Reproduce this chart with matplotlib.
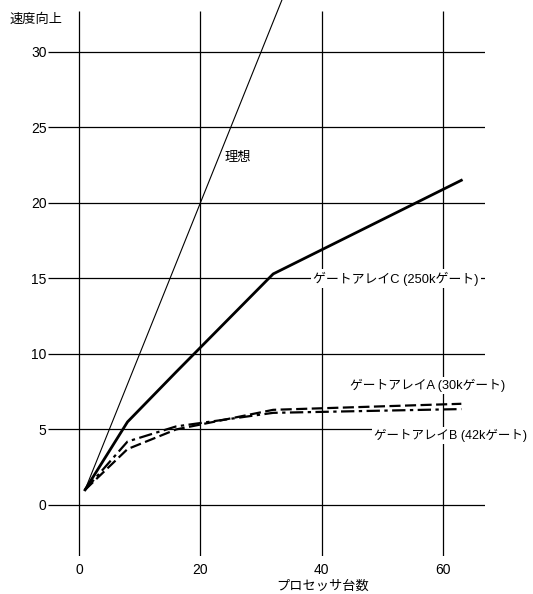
import matplotlib.pyplot as plt

plt.rcParams['font.family'] = ['Liberation Sans', 'Noto Sans CJK JP']

# processor counts and speedup for each gate array
procs = [1, 8, 16, 32, 63]
ideal_x = [1, 35]
ideal_y = [1, 35]
speedup_c = [1, 5.5, 8.8, 15.3, 21.5]
speedup_a = [1, 3.7, 5.0, 6.3, 6.7]
speedup_b = [1, 4.2, 5.2, 6.1, 6.35]

xticks = [0, 20, 40, 60]
yticks = [0, 5, 10, 15, 20, 25, 30]

fig = plt.figure(figsize=(5.33, 5.94), dpi=100)
ax = fig.add_axes([48 / 533, 38 / 594, 437 / 533, 556 / 594])
ax.set_xlim(-5.1, 66.9)
ax.set_ylim(-3.38, 33.44)

for s in ax.spines.values():
    s.set_visible(False)

# grid drawn by hand so vertical lines stop short of the top
ax.vlines(xticks, -3.38, 32.7, color='black', lw=0.9, zorder=1)
ax.hlines(yticks, -5.1, 66.9, color='black', lw=0.9, zorder=1)

ax.set_xticks(xticks)
ax.set_yticks(yticks)
ax.tick_params(axis='both', length=0, labelsize=10)
ax.tick_params(axis='x', pad=5)
ax.tick_params(axis='y', pad=1)

ax.plot(ideal_x, ideal_y, color='black', lw=0.8, zorder=3)
ax.plot(procs, speedup_c, color='black', lw=2.0, zorder=3)
ax.plot(procs, speedup_a, color='black', lw=1.6, ls=(0, (5, 2)), zorder=3)
ax.plot(procs, speedup_b, color='black', lw=1.6, ls=(0, (6, 2, 1.5, 2)), zorder=3)

box = dict(facecolor='white', edgecolor='none', pad=1.5)
ax.text(26.2, 23.0, '理想', fontsize=9.5, ha='center', va='center')
ax.text(38.6, 15.0, 'ゲートアレイC (250kゲート)', fontsize=9.3,
        ha='left', va='center', bbox=box, zorder=4)
ax.text(44.6, 7.9, 'ゲートアレイA (30kゲート)', fontsize=9.2,
        ha='left', va='center', bbox=box, zorder=4)
ax.text(48.6, 4.6, 'ゲートアレイB (42kゲート)', fontsize=9,
        ha='left', va='center', bbox=box, zorder=4, clip_on=False)

fig.text(10 / 533, 1 - 20 / 594, '速度向上', fontsize=9.5, ha='left', va='center')
fig.text(323 / 533, 1 - 587 / 594, 'プロセッサ台数', fontsize=9.5, ha='center', va='center')

fig.savefig('out.png', dpi=100)
